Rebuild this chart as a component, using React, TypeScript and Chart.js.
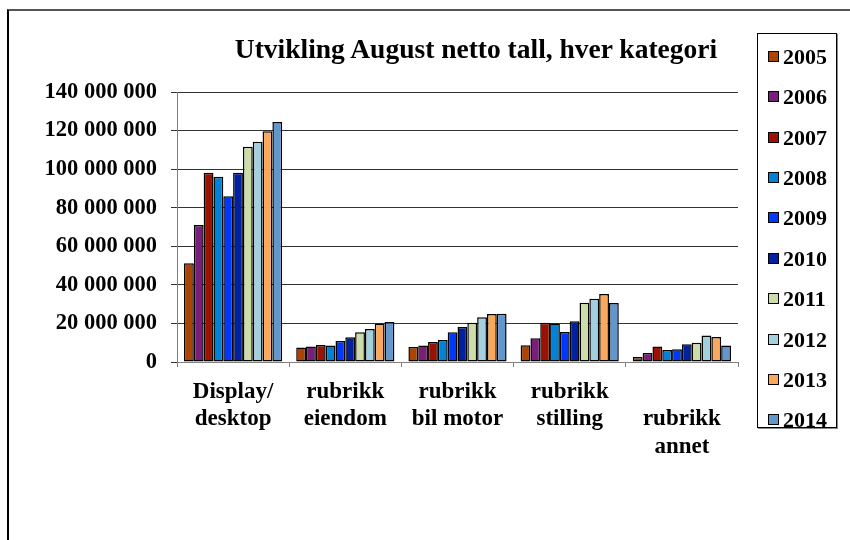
import React, { useEffect, useRef } from "react";
import { Chart, registerables } from "chart.js";

Chart.register(...registerables);

const categories: (string | string[])[] = [
  ["Display/", "desktop"],
  ["rubrikk", "eiendom"],
  ["rubrikk", "bil motor"],
  ["rubrikk", "stilling"],
  ["", "rubrikk", "annet"],
];

const years = ["2005", "2006", "2007", "2008", "2009", "2010", "2011", "2012", "2013", "2014"];

const colors = [
  "#AA4400",
  "#7B1E7A",
  "#9B1200",
  "#0282D6",
  "#0038FF",
  "#0022A0",
  "#CCDDAA",
  "#A4CFDE",
  "#FAA95C",
  "#6396CB",
];

const v2005 = [51.2e6, 7.5e6, 7.8e6, 8.7e6, 2.6e6];
const v2006 = [71.0e6, 8.1e6, 8.5e6, 12.3e6, 4.7e6];
const v2007 = [98.1e6, 8.8e6, 10.4e6, 20.4e6, 8.1e6];
const v2008 = [96.0e6, 8.6e6, 11.4e6, 19.9e6, 6.2e6];
const v2009 = [86.0e6, 10.9e6, 15.4e6, 15.6e6, 6.6e6];
const v2010 = [98.1e6, 12.8e6, 18.1e6, 21.1e6, 9.2e6];
const v2011 = [111.6e6, 15.4e6, 20.4e6, 30.7e6, 10.0e6];
const v2012 = [114.2e6, 17.1e6, 23.2e6, 32.8e6, 13.8e6];
const v2013 = [119.7e6, 19.9e6, 24.9e6, 35.3e6, 13.0e6];
const v2014 = [124.4e6, 20.7e6, 25.0e6, 30.6e6, 8.5e6];

const seriesValues = [v2005, v2006, v2007, v2008, v2009, v2010, v2011, v2012, v2013, v2014];

const yMin = 0;
const yMax = 140e6;
const yStep = 20e6;

const titleText = "Utvikling August netto tall, hver kategori";

const FONT = "'Liberation Serif', 'Times New Roman', serif";

function fmt(v: number): string {
  return String(Math.round(v)).replace(/\B(?=(\d{3})+(?!\d))/g, " ");
}

export default function App() {
  const canvasRef = useRef<HTMLCanvasElement | null>(null);

  useEffect(() => {
    if (!canvasRef.current) return;
    const chart = new Chart(canvasRef.current, {
      type: "bar",
      data: {
        labels: categories,
        datasets: years.map((y, i) => ({
          label: y,
          data: seriesValues[i],
          backgroundColor: colors[i],
          borderColor: "#000000",
          borderWidth: 1.5,
          borderSkipped: false,
          categoryPercentage: 0.875,
          barPercentage: 1.0,
        })),
      },
      options: {
        responsive: false,
        animation: false,
        layout: { padding: { left: 37, right: 112, top: 84, bottom: 70 } },
        plugins: {
          legend: { display: false },
          title: { display: false },
          tooltip: { enabled: false },
        },
        scales: {
          x: {
            grid: {
              offset: true,
              drawOnChartArea: false,
              drawTicks: true,
              tickLength: 5,
              color: "#808080",
            },
            border: { display: true, color: "#808080" },
            ticks: {
              autoSkip: false,
              maxRotation: 0,
              minRotation: 0,
              padding: 11,
              color: "#000000",
              font: { family: FONT, size: 23, weight: "bold", lineHeight: 1.2 },
            },
            afterFit: (scale: any) => {
              scale.height = 100;
            },
          },
          y: {
            min: yMin,
            max: yMax,
            ticks: {
              stepSize: yStep,
              padding: 14,
              color: "#000000",
              font: { family: FONT, size: 22.5, weight: "bold" },
              callback: (v: any) => fmt(Number(v)),
            },
            grid: {
              color: "#333333",
              drawTicks: true,
              tickLength: 6,
            },
            border: { display: true, color: "#808080" },
            afterFit: (scale: any) => {
              scale.width = 132;
            },
          },
        },
      },
    });
    return () => chart.destroy();
  }, []);

  return (
    <>
      <div
        style={{
          position: "fixed",
          left: 7,
          top: 9,
          right: -20,
          bottom: -20,
          borderTop: "2px solid #555555",
          borderLeft: "2px solid #000000",
          pointerEvents: "none",
        }}
      />
      <div style={{ position: "relative", width: 842, height: 524, overflow: "hidden" }}>
        <canvas
          ref={canvasRef}
          width={842}
          height={524}
          style={{ position: "absolute", left: 0, top: 0, width: 842, height: 524 }}
        />
        <div
          style={{
            position: "absolute",
            left: 168,
            top: 25,
            width: 600,
            textAlign: "center",
            fontFamily: FONT,
            fontWeight: "bold",
            fontSize: 27.5,
            lineHeight: "32px",
            color: "#000",
            whiteSpace: "nowrap",
          }}
        >
          {titleText}
        </div>
        <div
          style={{
            position: "absolute",
            left: 749,
            top: 25,
            width: 80,
            height: 395,
            boxSizing: "border-box",
            border: "1px solid #000",
            boxShadow: "1px 1px 0 #888",
            background: "#fff",
          }}
        >
          {years.map((y, i) => (
            <div
              key={y}
              style={{
                position: "absolute",
                left: 0,
                top: 23.7 + 40.4 * i - 14,
                height: 26,
                width: 78,
              }}
            >
              <div
                style={{
                  position: "absolute",
                  left: 10,
                  top: 7,
                  width: 11,
                  height: 11,
                  boxSizing: "border-box",
                  border: "1px solid #000",
                  background: colors[i],
                }}
              />
              <div
                style={{
                  position: "absolute",
                  left: 25,
                  top: 0,
                  fontFamily: FONT,
                  fontWeight: "bold",
                  fontSize: 22,
                  lineHeight: "26px",
                  color: "#000",
                }}
              >
                {y}
              </div>
            </div>
          ))}
        </div>
      </div>
    </>
  );
}
